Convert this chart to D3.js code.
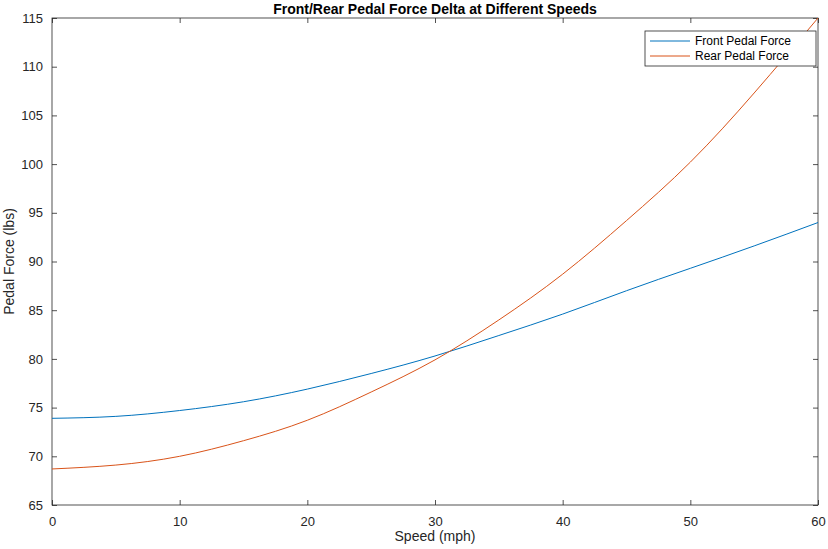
<!DOCTYPE html>
<html>
<head>
<meta charset="utf-8">
<script src="https://cdn.jsdelivr.net/npm/d3@7"></script>
<style>
  body { margin: 0; background: #fff; }
  text { font-family: Arial, "Liberation Sans", sans-serif; }
</style>
</head>
<body>
<div id="chart"></div>
<script>
  // data
  const speed = [0, 5, 10, 15, 20, 25, 30, 35, 40, 45, 50, 55, 60]
  const front = [73.9, 74.1, 74.7, 75.6, 76.9, 78.5, 80.3, 82.4, 84.6, 87.0, 89.3, 91.6, 94.0]
  const rear = [68.7, 69.1, 70.0, 71.6, 73.7, 76.6, 79.9, 84.0, 88.7, 94.2, 100.2, 107.3, 115.0]
  const xTicks = [0, 10, 20, 30, 40, 50, 60]
  const yTicks = [65, 70, 75, 80, 85, 90, 95, 100, 105, 110, 115]

  const W = 828, H = 549
  const m = { l: 52, r: 10, t: 18, b: 44 }
  const svg = d3.select("#chart").append("svg").attr("width", W).attr("height", H)

  const x = d3.scaleLinear().domain([0, 60]).range([m.l, W - m.r])
  const y = d3.scaleLinear().domain([65, 115]).range([H - m.b, m.t])

  const axisCol = "#262626"
  const tl = 5

  // box
  svg.append("rect").attr("x", x(0)).attr("y", y(115))
    .attr("width", x(60) - x(0)).attr("height", y(65) - y(115))
    .attr("fill", "none").attr("stroke", axisCol).attr("stroke-width", 0.8)

  const gx = svg.append("g").attr("transform", `translate(0,${y(65)})`)
    .call(d3.axisBottom(x).tickValues(xTicks).tickSize(-tl).tickPadding(12))
  const gy = svg.append("g").attr("transform", `translate(${x(0)},0)`)
    .call(d3.axisLeft(y).tickValues(yTicks).tickSize(-tl).tickPadding(9))
  svg.append("g").attr("transform", `translate(0,${y(115)})`)
    .call(d3.axisTop(x).tickValues(xTicks).tickSize(-tl).tickFormat(""))
  svg.append("g").attr("transform", `translate(${x(60)},0)`)
    .call(d3.axisRight(y).tickValues(yTicks).tickSize(-tl).tickFormat(""))
  svg.selectAll(".domain").remove()
  svg.selectAll(".tick line").attr("stroke", axisCol).attr("stroke-width", 0.8)
  svg.selectAll(".tick text").attr("fill", axisCol).style("font-size", "13px")

  const line = d3.line().x((d, i) => x(speed[i])).y(d => y(d)).curve(d3.curveNatural)
  svg.append("path").datum(front).attr("d", line).attr("fill", "none")
    .attr("stroke", "#0072BD").attr("stroke-width", 1)
  svg.append("path").datum(rear).attr("d", line).attr("fill", "none")
    .attr("stroke", "#D95319").attr("stroke-width", 1)

  // title and labels
  svg.append("text").attr("x", (x(0) + x(60)) / 2).attr("y", 14).attr("text-anchor", "middle")
    .style("font-size", "14px").style("font-weight", "bold").attr("fill", "#000")
    .text("Front/Rear Pedal Force Delta at Different Speeds")
  svg.append("text").attr("x", (x(0) + x(60)) / 2).attr("y", 541).attr("text-anchor", "middle")
    .style("font-size", "14px").attr("fill", axisCol).text("Speed (mph)")
  svg.append("text").attr("transform", `translate(14,${(y(65) + y(115)) / 2}) rotate(-90)`)
    .attr("text-anchor", "middle").style("font-size", "14px").attr("fill", axisCol)
    .text("Pedal Force (lbs)")

  // legend
  const lg = svg.append("g").attr("transform", "translate(645,31)")
  lg.append("rect").attr("width", 171).attr("height", 35).attr("fill", "#fff")
    .attr("stroke", axisCol).attr("stroke-width", 0.8)
  const items = [["Front Pedal Force", "#0072BD"], ["Rear Pedal Force", "#D95319"]]
  items.forEach(([t, c], i) => {
    const yy = 10 + i * 15
    lg.append("line").attr("x1", 5).attr("x2", 45).attr("y1", yy).attr("y2", yy)
      .attr("stroke", c).attr("stroke-width", 1)
    lg.append("text").attr("x", 50).attr("y", yy + 4).style("font-size", "12px")
      .attr("fill", "#000").text(t)
  })
</script>
</body>
</html>
